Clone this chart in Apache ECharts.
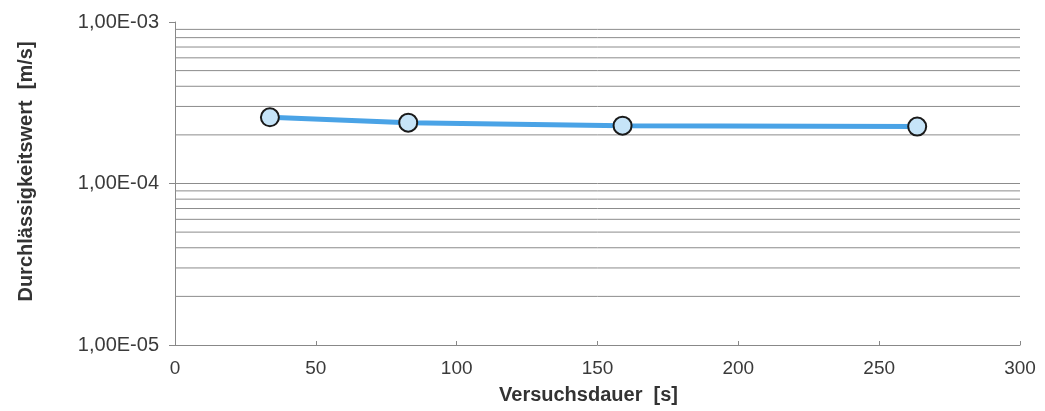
<!DOCTYPE html>
<html>
<head>
<meta charset="utf-8">
<script src="https://cdn.jsdelivr.net/npm/echarts@6/dist/echarts.min.js"></script>
<style>
html,body{margin:0;padding:0;background:#fff;}
#chart{width:1045px;height:411px;}
</style>
</head>
<body>
<div id="chart"></div>
<script>
// Data
const timeSeconds = [33.7, 82.8, 158.9, 263.5];
const permeability = [2.57e-4, 2.38e-4, 2.28e-4, 2.25e-4];
const xTicks = [0, 50, 100, 150, 200, 250, 300];
const yTicks = [1e-5, 1e-4, 1e-3];
const gridLineValues = [2e-5,3e-5,4e-5,5e-5,6e-5,7e-5,8e-5,9e-5,1e-4,2e-4,3e-4,4e-4,5e-4,6e-4,7e-4,8e-4,9e-4];

function fmtSci(v){
  const e = Math.round(Math.log10(v));
  const m = v / Math.pow(10, e);
  const sign = e < 0 ? '-' : '+';
  const ae = Math.abs(e);
  return m.toFixed(2).replace('.', ',') + 'E' + sign + (ae < 10 ? '0' + ae : '' + ae);
}

const xMin = xTicks[0], xMax = xTicks[xTicks.length-1];
const gridSeries = gridLineValues.map(v => ({
  type:'line', silent:true, symbol:'none', z:1,
  data:[[xMin, v],[xMax, v]],
  lineStyle:{color:'#8c8c8c', width:1},
  emphasis:{disabled:true}, tooltip:{show:false}
}));

const chart = echarts.init(document.getElementById('chart'), null, {renderer:'canvas'});
const font = 'Liberation Sans, Arial, sans-serif';
chart.setOption({
  animation:false,
  backgroundColor:'#fff',
  grid:{left:175, right:25, top:22, bottom:66},
  xAxis:{
    type:'value', min:xMin, max:xMax, interval:50,
    name:'Versuchsdauer  [s]', nameLocation:'middle', nameGap:40,
    nameTextStyle:{fontFamily:font, fontSize:20, fontWeight:'bold', color:'#333', padding:[0,18,0,0]},
    axisLine:{lineStyle:{color:'#888', width:1}},
    axisTick:{inside:true, length:4, lineStyle:{color:'#888'}},
    axisLabel:{fontFamily:font, fontSize:19, color:'#3a3a3a', margin:14},
    splitLine:{show:false}
  },
  yAxis:{
    type:'log', logBase:10, min:yTicks[0], max:yTicks[yTicks.length-1],
    name:'Durchlässigkeitswert  [m/s]', nameLocation:'middle', nameGap:139,
    nameTextStyle:{fontFamily:font, fontSize:20, fontWeight:'bold', color:'#333', padding:[0,0,0,24]},
    axisLine:{show:true, lineStyle:{color:'#888', width:1}},
    axisTick:{show:true, length:6, lineStyle:{color:'#888'}},
    axisLabel:{fontFamily:font, fontSize:20, color:'#3a3a3a', margin:16, formatter:fmtSci},
    splitLine:{show:false}
  },
  series:gridSeries.concat([{
    type:'line',
    data:timeSeconds.map((t,i)=>[t, permeability[i]]),
    lineStyle:{color:'#4aa3e6', width:5},
    itemStyle:{color:'#c6e4f8', borderColor:'#1a1a1a', borderWidth:2},
    symbol:'circle', symbolSize:18,
    z:5
  }])
});
</script>
</body>
</html>
